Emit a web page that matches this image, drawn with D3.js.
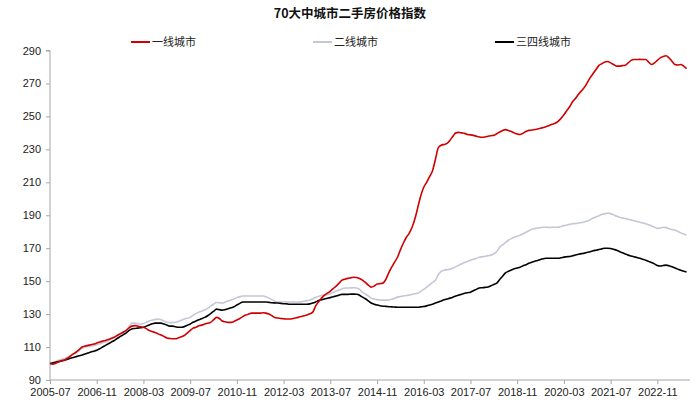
<!DOCTYPE html>
<html>
<head>
<meta charset="utf-8">
<script src="https://cdn.jsdelivr.net/npm/d3@7"></script>
<style>
  body { margin: 0; background: #fff; }
  svg { display: block; }
  text { font-family: "Liberation Sans", Arial, "Noto Sans CJK SC", sans-serif; }
</style>
</head>
<body>
<svg id="chart" width="700" height="420"></svg>
<script>
// Monthly categories 2005-07 .. 2023-09
const startMonth = "2005-07";
const endMonth = "2023-09";
const tickLabels = ["2005-07","2006-11","2008-03","2009-07","2010-11","2012-03","2013-07","2014-11","2016-03","2017-07","2018-11","2020-03","2021-07","2022-11"];
const yTicks = [90,110,130,150,170,190,210,230,250,270,290];
const seriesNames = ["一线城市","二线城市","三四线城市"];

const tier1 = [
  100,99.6,100.2,101,101.8,102.2,
  103.2,104.5,105.8,107,108.5,110,110.6,111,111.4,111.8,112.4,113,
  113.6,114,114.6,115.3,116,117,118,119,120,121.5,122.7,123,
  122.8,122.3,122,121.2,120,119.4,118.8,118,117.3,116.5,115.5,115.2,
  115,115,115.6,116.2,117,118.5,120,121.5,122,123,123.3,124,
  124.5,125,126.5,128,127.3,125.8,125.3,125,125,125.5,126.4,127.3,
  128.5,129.4,130,130.6,130.6,130.6,130.6,130.8,130.6,130,129,128,
  127.6,127.3,127.2,127,127,127.2,127.6,128,128.5,129,129.4,130.2,
  131.2,135,137.5,139.7,141.5,142.7,144,145.5,147,148.8,150.6,151.2,
  151.7,152,152.4,152.2,151.6,150.6,149.2,147.6,146.4,147,148.2,148.5,
  148.8,151,155,158.5,161.5,164.5,169,173,176.5,179,182.7,188,
  195,202,207,210,213.5,217,224,231,232.5,233,233.6,235.5,
  238,240,240.3,240,239.7,239,238.8,238.5,238,237.5,237.3,237.5,
  238,238.3,238.5,239.5,240.5,241.5,242,241.5,240.8,240,239.3,239,
  239.8,240.8,241.5,241.7,242,242.3,242.8,243.3,243.8,244.5,245.2,245.8,
  247,248.8,251,253.5,256,259,261,263.5,265.5,267.6,270.5,273.5,
  276,278.5,281,282,283,283.3,282.5,281.5,280.5,280.5,280.8,281,
  282.5,284,284.5,284.5,284.6,284.5,284.5,283,281.5,282.5,284,285.5,
  286.4,286.8,285.5,283.5,281.5,281.2,281.5,280.5,279
];
const tier2 = [
  100,100.6,101.3,102,102.6,103,
  103.8,104.8,105.7,106.7,108,109.2,110,110.3,110.6,111,111.4,112,
  112.6,113,113.8,114.8,116,117,118,119,120,122.3,124.5,124.5,
  124.2,124,124.3,125,125.8,126.3,126.7,127,126.6,125.8,125,124.8,
  124.8,125,125.5,126.2,127,127.5,128,129.3,130.3,131.2,131.8,132.6,
  133.5,134.8,136,137,136.9,136.7,137.3,137.9,138.5,139.2,140,140.6,
  141,141,141,141,141,141,141,141,140.5,139.7,138.8,138,
  137.3,137.3,137.3,137.3,137.3,137.3,137.3,137.3,137.4,137.8,138.2,138.5,
  139.3,140.1,140.8,141.2,141.5,141.7,142.5,143.2,144,144.7,145.3,145.8,
  145.8,145.9,146,145.8,145,143.3,142.2,141,139.7,139.2,138.8,138.6,
  138.5,138.5,138.6,139,139.5,140.3,140.7,141,141.3,141.5,142,142.4,
  142.7,143.8,145,146.4,147.8,149.2,150.6,154,156,156.6,157,157.3,
  158,158.8,159.7,160.5,161.3,162,162.7,163.3,163.8,164.5,164.8,165.1,
  165.5,165.8,166.6,168,170.6,172,173.5,174.8,175.8,176.6,177.3,177.9,
  178.8,179.7,180.6,181.5,181.9,182.3,182.5,182.7,182.7,182.6,182.7,182.7,
  182.7,183.2,183.7,184.1,184.5,184.8,185,185.3,185.6,185.9,186.5,187.3,
  188.3,189,189.7,190.4,191,191.2,191,190.3,189.5,188.8,188.4,188,
  187.6,187.2,186.7,186.2,185.8,185.3,184.8,184.2,183.5,182.8,182,182.3,
  182.7,182.5,181.8,181.3,181,180.2,179.3,178.6,178
];
const tier34 = [
  100,100.4,100.8,101.2,101.6,102,
  102.6,103.2,103.7,104.2,104.7,105.2,105.8,106.4,107,107.5,108.1,109,
  110,111,112,113,114,115.2,116.3,117.4,118.5,120,121,121.3,
  121.5,121.7,122,122.7,123.4,124.1,124.5,124.5,124.5,124,123.4,122.7,
  122.7,122.3,122,122,122.4,123.2,124,125,125.8,126.6,127.3,128,
  129,130.3,131.6,133,132.7,132.4,132.7,133.2,133.8,134.5,135.5,136.5,
  137.3,137.3,137.3,137.3,137.3,137.3,137.3,137.3,137.3,137.1,136.9,136.8,
  136.7,136.5,136.3,136.2,136,136,136,136,136,136,136,136.2,
  136.7,137.4,138.2,138.7,139.2,139.6,140,140.5,141,141.5,142,142,
  142,142.1,142.1,142,141.5,140.3,139.3,138,136.7,136,135.5,135.1,
  134.8,134.7,134.5,134.4,134.3,134.2,134.2,134.2,134.2,134.2,134.2,134.2,
  134.2,134.4,134.6,135,135.5,136,136.7,137.3,138,138.7,139.2,139.7,
  140.3,141,141.6,142,142.6,143,143.3,144.2,145,145.8,146,146.2,
  146.4,147.2,148,148.8,151,153,155,156,156.8,157.5,158,158.5,
  159.3,160,160.8,161.5,162.1,162.6,163.2,163.6,163.9,163.9,163.9,163.9,
  163.9,164.2,164.6,164.8,165,165.4,165.9,166.3,166.7,167,167.5,167.9,
  168.4,168.8,169.2,169.6,170,170,169.8,169.3,168.8,168,167.2,166.5,
  165.8,165.3,164.8,164.4,163.9,163.3,162.7,162,161.3,160.5,159.5,159.2,
  159.5,159.7,159.3,158.7,158,157.3,156.6,156,155.5
];
const colors = ["#d00000","#c4c7d6","#000000"];

const parse = d3.timeParse("%Y-%m");
const fmt = d3.timeFormat("%Y-%m");
const months = d3.timeMonth.range(parse(startMonth), d3.timeMonth.offset(parse(endMonth), 1)).map(fmt);

const svg = d3.select("#chart");
const x = d3.scaleLinear().domain([0, months.length - 1]).range([50, 50 + (months.length - 1) * 2.92]);
const y = d3.scaleLinear().domain([90, 290]).range([380, 50.5]);

// title
svg.append("text").attr("x", 350).attr("y", 18).attr("text-anchor", "middle")
  .attr("font-size", 12.5).attr("font-weight", "bold").attr("fill", "#111")
  .style("font-family", "'Noto Sans CJK SC', sans-serif")
  .text("70大中城市二手房价格指数");

// y axis
const yAxis = d3.axisLeft(y).tickValues(yTicks).tickSize(4).tickPadding(5);
const gy = svg.append("g").attr("transform", "translate(50,0)").call(yAxis);
gy.select(".domain").attr("stroke", "#a6a6a6").attr("d", `M-4,${y(290)}H0V${y(90)}`);
gy.selectAll(".tick line").attr("stroke", "#a6a6a6");
gy.selectAll(".tick text").attr("font-size", 11).attr("fill", "#222")
  .style("font-family", "'Liberation Sans', Arial, sans-serif");

// x axis
const tickIdx = tickLabels.map(l => months.indexOf(l));
const xAxis = d3.axisBottom(x).tickValues(tickIdx).tickFormat(i => months[i]).tickSize(4).tickPadding(4);
const gx = svg.append("g").attr("transform", "translate(0,380)").call(xAxis);
gx.select(".domain").attr("stroke", "#a6a6a6").attr("d", `M50,0H690`);
gx.selectAll(".tick line").attr("stroke", "#a6a6a6");
gx.selectAll(".tick text").attr("font-size", 11).attr("fill", "#222")
  .style("font-family", "'Liberation Sans', Arial, sans-serif");

// lines
const line = d3.line().x((d, i) => x(i)).y(d => y(d)).curve(d3.curveMonotoneX);
const data = [tier2, tier34, tier1];
const order = [1, 2, 0];
order.forEach(k => {
  const vals = [tier1, tier2, tier34][k];
  svg.append("path").datum(vals).attr("fill", "none")
    .attr("stroke", colors[k]).attr("stroke-width", 1.6)
    .attr("stroke-linejoin", "round").attr("d", line);
});

// legend
const legendX = [131, 313, 495];
seriesNames.forEach((name, k) => {
  const g = svg.append("g").attr("transform", `translate(${legendX[k]},42)`);
  g.append("line").attr("x1", 0).attr("x2", 19).attr("y1", 0).attr("y2", 0)
    .attr("stroke", colors[k]).attr("stroke-width", 2);
  g.append("text").attr("x", 21).attr("y", 4).attr("font-size", 11).attr("fill", "#222")
    .style("font-family", "'Noto Sans CJK SC', sans-serif").text(name);
});
</script>
</body>
</html>
